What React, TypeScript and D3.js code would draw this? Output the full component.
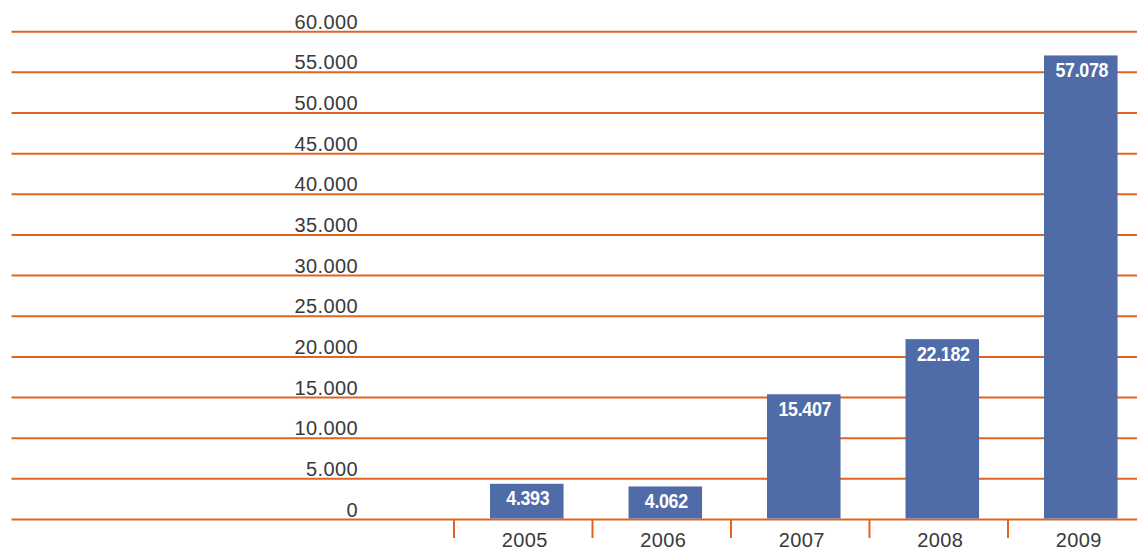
import React from "react";
import * as d3 from "d3";

const years = ["2005", "2006", "2007", "2008", "2009"];
const values = [4393, 4062, 15407, 22182, 57078];
const valueLabels = ["4.393", "4.062", "15.407", "22.182", "57.078"];
const yTicks = [0, 5000, 10000, 15000, 20000, 25000, 30000, 35000, 40000, 45000, 50000, 55000, 60000];

const W = 1137;
const H = 550;
const ORANGE = "#E0641E";
const BLUE = "#4F6CA8";

const fmt = (v: number) => (v === 0 ? "0" : d3.format(",")(v).replace(/,/g, "."));

export default function App() {
  const y = d3.scaleLinear().domain([0, 60000]).range([519.5, 31.7]);
  const x = d3
    .scaleBand<string>()
    .domain(years)
    .range([454, 454 + 138.5 * years.length])
    .padding(0);
  const step = x.bandwidth();
  const barOffset = step * 0.26;
  const bw = step * 0.531;
  const y0 = y(0);

  return (
    <svg
      width={W}
      height={H}
      style={{ position: "absolute", left: 0, top: 0, background: "#fff" }}
    >
      {yTicks.map((t) => (
        <g key={t}>
          <line x1={11.5} x2={W} y1={y(t)} y2={y(t)} stroke={ORANGE} strokeWidth={2} />
          <text
            x={358}
            y={y(t) - 3}
            textAnchor="end"
            fontFamily="Liberation Sans, Arial, sans-serif"
            fontSize={20}
            letterSpacing={0.4}
            fill="#3a3a3a"
          >
            {fmt(t)}
          </text>
        </g>
      ))}
      {years.map((yr, i) => {
        const start = x(yr)!;
        const bx = start + barOffset;
        const cx = bx + bw / 2;
        const top = y(values[i]);
        return (
          <g key={yr}>
            <line x1={start} x2={start} y1={y0} y2={538} stroke={ORANGE} strokeWidth={2} />
            <rect x={bx} y={top} width={bw} height={y0 - top - 1} fill={BLUE} />
            <g transform={`translate(${cx + 1},${top + 21.5}) scale(0.85,1)`}>
              <text
                x={0}
                y={0}
                textAnchor="middle"
                fontFamily="Liberation Sans, Arial, sans-serif"
                fontWeight="bold"
                fontSize={21}
                letterSpacing={-0.4}
                fill="#fff"
              >
                {valueLabels[i]}
              </text>
            </g>
            <text
              x={cx - 2}
              y={547}
              textAnchor="middle"
              fontFamily="Liberation Sans, Arial, sans-serif"
              fontSize={20}
              letterSpacing={0.4}
              fill="#3a3a3a"
            >
              {yr}
            </text>
          </g>
        );
      })}
    </svg>
  );
}
